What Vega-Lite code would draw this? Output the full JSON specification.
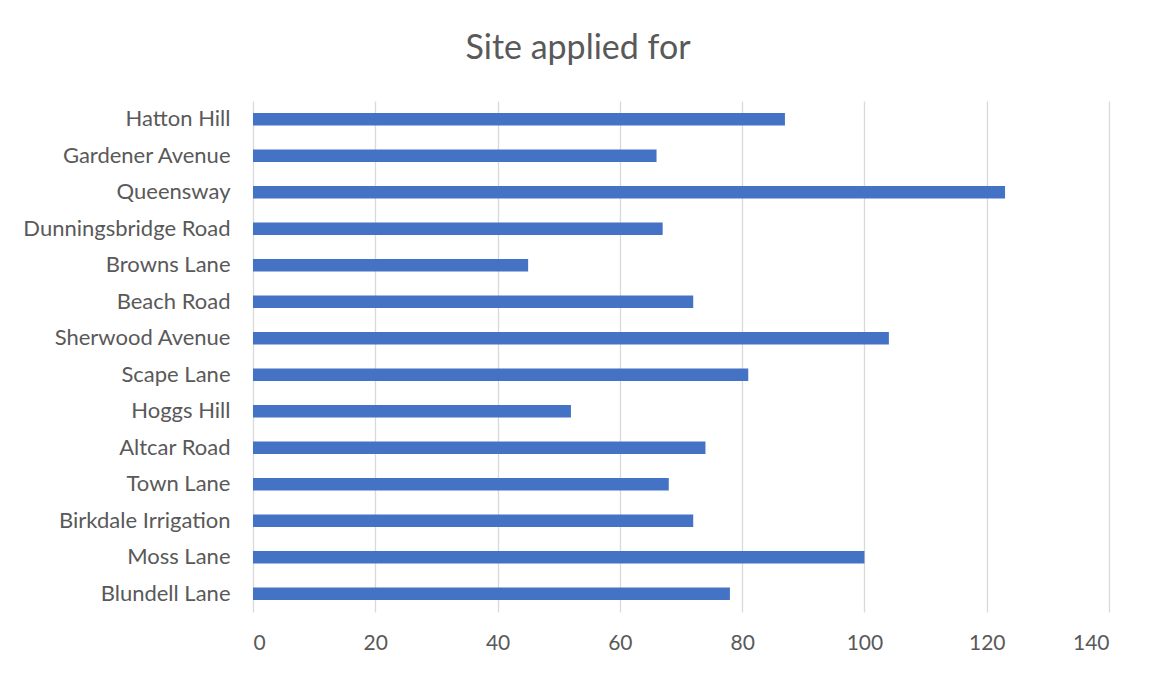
{
  "$schema": "https://vega.github.io/schema/vega-lite/v6.json",
  "autosize": {"type": "none"},
  "padding": {"left": 253, "top": 101, "right": 47, "bottom": 61},
  "width": 856,
  "height": 511,
  "background": "white",
  "title": {
    "text": "Site applied for",
    "font": "Lato",
    "fontSize": 34,
    "fontWeight": "normal",
    "color": "#595959",
    "anchor": "middle",
    "baseline": "middle",
    "offset": 18,
    "dx": -103
  },
  "data": {
    "values": [
      {"site": "Hatton Hill", "value": 87},
      {"site": "Gardener Avenue", "value": 66},
      {"site": "Queensway", "value": 123},
      {"site": "Dunningsbridge Road", "value": 67},
      {"site": "Browns Lane", "value": 45},
      {"site": "Beach Road", "value": 72},
      {"site": "Sherwood Avenue", "value": 104},
      {"site": "Scape Lane", "value": 81},
      {"site": "Hoggs Hill", "value": 52},
      {"site": "Altcar Road", "value": 74},
      {"site": "Town Lane", "value": 68},
      {"site": "Birkdale Irrigation", "value": 72},
      {"site": "Moss Lane", "value": 100},
      {"site": "Blundell Lane", "value": 78}
    ]
  },
  "mark": {"type": "bar", "color": "#4472C4"},
  "encoding": {
    "y": {
      "field": "site",
      "type": "nominal",
      "sort": null,
      "scale": {"paddingInner": 0.66, "paddingOuter": 0.33},
      "axis": {
        "title": null,
        "ticks": false,
        "domain": false,
        "grid": false,
        "labelPadding": 23,
        "labelLimit": 0,
        "labelFont": "Lato",
        "labelFontSize": 22,
        "labelColor": "#595959"
      }
    },
    "x": {
      "field": "value",
      "type": "quantitative",
      "scale": {"domain": [0, 140], "nice": false},
      "axis": {
        "title": null,
        "values": [0, 20, 40, 60, 80, 100, 120, 140],
        "ticks": false,
        "domain": false,
        "grid": true,
        "gridColor": "#d9d9d9",
        "gridWidth": 1.3,
        "labelPadding": 20,
        "labelFont": "Lato",
        "labelFontSize": 21,
        "labelColor": "#595959",
        "labelBaseline": "top"
      }
    }
  },
  "config": {"view": {"stroke": null}}
}
